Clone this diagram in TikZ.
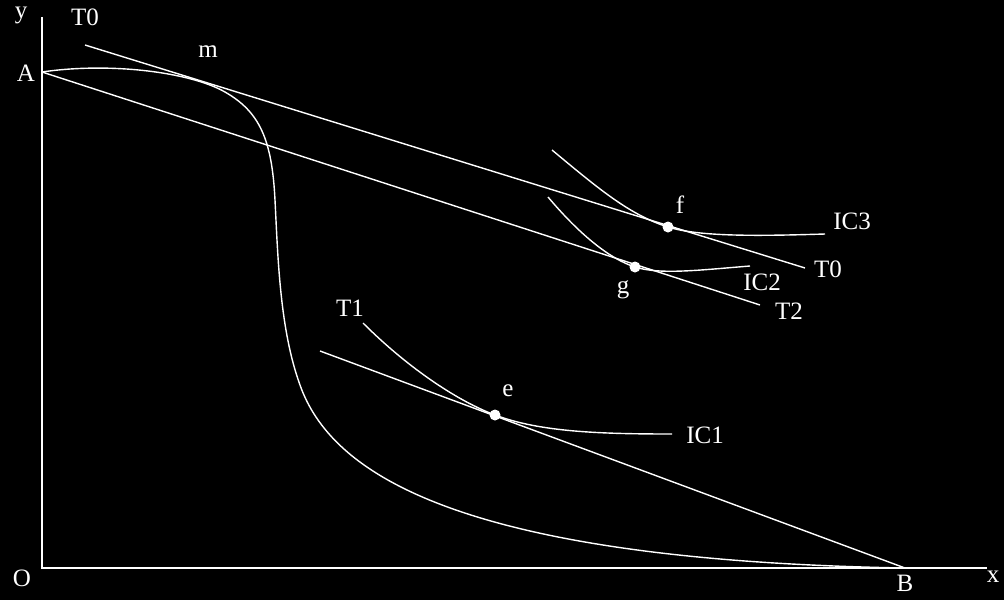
\documentclass[tikz,border=0pt]{standalone}
\usepackage{fontspec}
\setmainfont{Liberation Serif}
\begin{document}
\begin{tikzpicture}[x=1pt,y=-1pt,
  ln/.style={draw=white,line width=1.4pt},
  ax/.style={draw=white,line width=1.8pt},
  lbl/.style={text=white,font=\fontsize{25}{28}\selectfont,inner sep=0pt},
  dot/.style={circle,fill=white,draw=none,minimum size=11pt,inner sep=0pt}]
\fill[black] (0,0) rectangle (1004,600);
\useasboundingbox (0,0) rectangle (1004,600);
% coordinates
\coordinate (O) at (42,568);
\coordinate (ytop) at (42,17);
\coordinate (xend) at (987,568);
\coordinate (A) at (42,72);
\coordinate (B) at (905,568);
\coordinate (t0s) at (85,45);
\coordinate (t0e) at (805,268);
\coordinate (t2e) at (760,305);
\coordinate (t1s) at (320,351);
\coordinate (ic3s) at (552,150);
\coordinate (ic3e) at (825,234);
\coordinate (ic2s) at (548,197);
\coordinate (ic2e) at (750,266);
\coordinate (ic1s) at (363,323);
\coordinate (ic1e) at (672,434);
% axes
\draw[ax] (ytop) -- (O) -- (xend);
% tangent lines
\draw[ln] (t0s) -- (t0e);
\draw[ln] (A) -- (t2e);
\draw[ln] (t1s) -- (B);
% transformation curve
\draw[ln] (A) .. controls (110,62) and (190,72) .. (225,92)
  .. controls (260,112) and (272,140) .. (275,200)
  .. controls (278,260) and (280,330) .. (300,385)
  .. controls (330,470) and (450,560) .. (B);
% dots
\node[dot] (f) at (668,227) {};
\node[dot] (g) at (635,267) {};
\node[dot] (e) at (495,415) {};
% indifference curves
\draw[ln] (ic3s) .. controls (600,190) and (630,215) .. (f.center) .. controls (700,237) and (760,236) .. (ic3e);
\draw[ln] (ic2s) .. controls (580,235) and (610,259) .. (g.center) .. controls (660,275) and (700,270) .. (ic2e);
\draw[ln] (ic1s) .. controls (410,370) and (460,402) .. (e.center) .. controls (540,432) and (600,434) .. (ic1e);
% labels
\node[lbl] (ly) at (21,15) {y};
\node[lbl] (lT0a) at (85,17) {T0};
\node[lbl] (lm) at (208,52) {m};
\node[lbl] (lA) at (26,73) {A};
\node[lbl] (lO) at (22,578) {O};
\node[lbl] (lB) at (905,583) {B};
\node[lbl] (lx) at (993,577) {x};
\node[lbl] (lf) at (680,205) {f};
\node[lbl] (lg) at (623,290) {g};
\node[lbl] (lIC3) at (852,221) {IC3};
\node[lbl] (lT0b) at (828,269) {T0};
\node[lbl] (lIC2) at (762,282) {IC2};
\node[lbl] (lT2) at (789,311) {T2};
\node[lbl] (lT1) at (350,308) {T1};
\node[lbl] (le) at (508,391) {e};
\node[lbl] (lIC1) at (705,435) {IC1};
\end{tikzpicture}
\end{document}
